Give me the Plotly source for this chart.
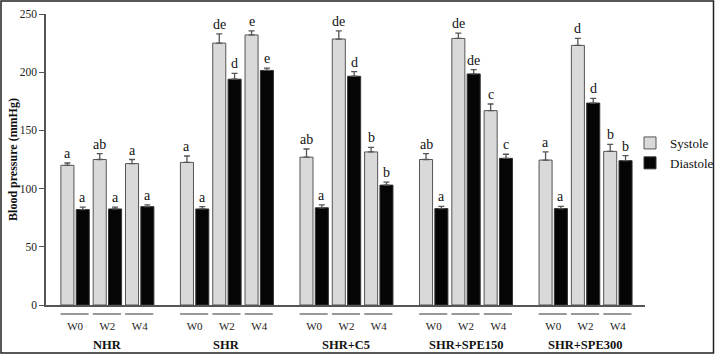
import plotly.graph_objects as go

groups = ["NHR", "SHR", "SHR+C5", "SHR+SPE150", "SHR+SPE300"]
weeks = ["W0", "W2", "W4"]

systole = [120, 125, 121.5, 122.5, 225, 232, 127, 228.5, 131.5, 125, 229, 167, 124.5, 223, 132]
systole_err = [2, 5, 3.5, 5.5, 8, 3.5, 7, 7, 4, 5, 4.5, 5.7, 7, 6, 6]
systole_letters = ["a", "ab", "a", "a", "de", "e", "ab", "de", "b", "ab", "de", "c", "a", "d", "b"]

diastole = [82, 82.5, 84.5, 82.5, 194, 201.5, 83.5, 196.5, 103, 82.8, 198.5, 126, 82.8, 173.5, 124]
diastole_err = [2, 1.5, 1.5, 2, 5, 2, 2.5, 4, 2.5, 2, 3.7, 3.5, 2, 4, 4.3]
diastole_letters = ["a", "a", "a", "a", "d", "e", "a", "d", "b", "a", "de", "c", "a", "d", "b"]

y_ticks = [0, 50, 100, 150, 200, 250]

GROUP_STEP = 3.7
xs = []
xlabels = []
for g in range(len(groups)):
    for i, w in enumerate(weeks):
        xs.append(g * GROUP_STEP + i)
        xlabels.append(w)

FONT = "Liberation Serif, Times New Roman, serif"
W, H = 715, 356
L, R, T, B = 46, 70, 14, 51
PW, PH = W - L - R, H - T - B

def px_x(p):
    return (p - L) / PW

def px_y(p):
    return (H - B - p) / PH

fig = go.Figure()
fig.add_trace(go.Bar(
    x=xs, y=systole, name="Systole",
    marker=dict(color="#d9d9d9", line=dict(color="#555555", width=1)),
    error_y=dict(type="data", array=systole_err, arrayminus=[0] * len(systole_err),
                 symmetric=False, color="#555555", thickness=1.3, width=3),
))
fig.add_trace(go.Bar(
    x=xs, y=diastole, name="Diastole",
    marker=dict(color="#050505", line=dict(color="#333333", width=1)),
    error_y=dict(type="data", array=diastole_err, arrayminus=[0] * len(diastole_err),
                 symmetric=False, color="#555555", thickness=1.3, width=3),
))

OFF = 0.2375
annotations = []
for x, v, e, t in zip(xs, systole, systole_err, systole_letters):
    annotations.append(dict(x=x - OFF, y=v + e, text=t, showarrow=False, xref="x", yref="y",
                            yanchor="bottom", yshift=0, font=dict(family=FONT, size=14, color="#111")))
for x, v, e, t in zip(xs, diastole, diastole_err, diastole_letters):
    annotations.append(dict(x=x + OFF, y=v + e, text=t, showarrow=False, xref="x", yref="y",
                            yanchor="bottom", yshift=0, font=dict(family=FONT, size=14, color="#111")))
for g, name in enumerate(groups):
    annotations.append(dict(x=g * GROUP_STEP + 1, y=px_y(345), text="<b>" + name + "</b>",
                            showarrow=False, xref="x", yref="paper", yanchor="middle",
                            font=dict(family=FONT, size=12.5, color="#111")))

shapes = []
for x in xs:
    shapes.append(dict(type="line", xref="x", yref="paper", x0=x - 0.45, x1=x + 0.42,
                       y0=px_y(314), y1=px_y(314), line=dict(color="#333333", width=1)))
shapes.append(dict(type="rect", xref="paper", yref="paper",
                   x0=px_x(1), x1=px_x(713.5), y0=px_y(1), y1=px_y(353),
                   line=dict(color="#222222", width=1.5), fillcolor="rgba(0,0,0,0)", layer="below"))

fig.update_layout(
    width=W, height=H,
    margin=dict(l=L, r=R, t=T, b=B, autoexpand=False),
    paper_bgcolor="white", plot_bgcolor="white",
    barmode="group", bargap=0.05, bargroupgap=0.15,
    font=dict(family=FONT, size=12, color="#222"),
    showlegend=True,
    legend=dict(x=px_x(630), y=px_y(128), xanchor="left", yanchor="top",
                font=dict(family=FONT, size=13, color="#111"), itemwidth=30,
                bgcolor="rgba(0,0,0,0)"),
    annotations=annotations,
    shapes=shapes,
)
fig.update_xaxes(
    range=[-0.9, 17.64], tickvals=xs, ticktext=xlabels, ticks="",
    showline=True, linecolor="#555555", linewidth=1.5, showgrid=False, zeroline=False,
    tickfont=dict(family=FONT, size=11, color="#222"), ticklabelstandoff=10,
)
fig.update_yaxes(
    range=[0, 250], tickvals=y_ticks, ticks="outside", ticklen=5, tickcolor="#555555",
    showline=True, linecolor="#555555", linewidth=1.5, showgrid=False, zeroline=False,
    tickfont=dict(family=FONT, size=11.5, color="#222"),
    title=dict(text="<b>Blood pressure (mmHg)</b>", font=dict(family=FONT, size=12, color="#111"), standoff=0),
)

fig.write_html("out.html", config={"displayModeBar": False},
               post_script="document.body.style.margin='0';document.body.style.padding='0';")
